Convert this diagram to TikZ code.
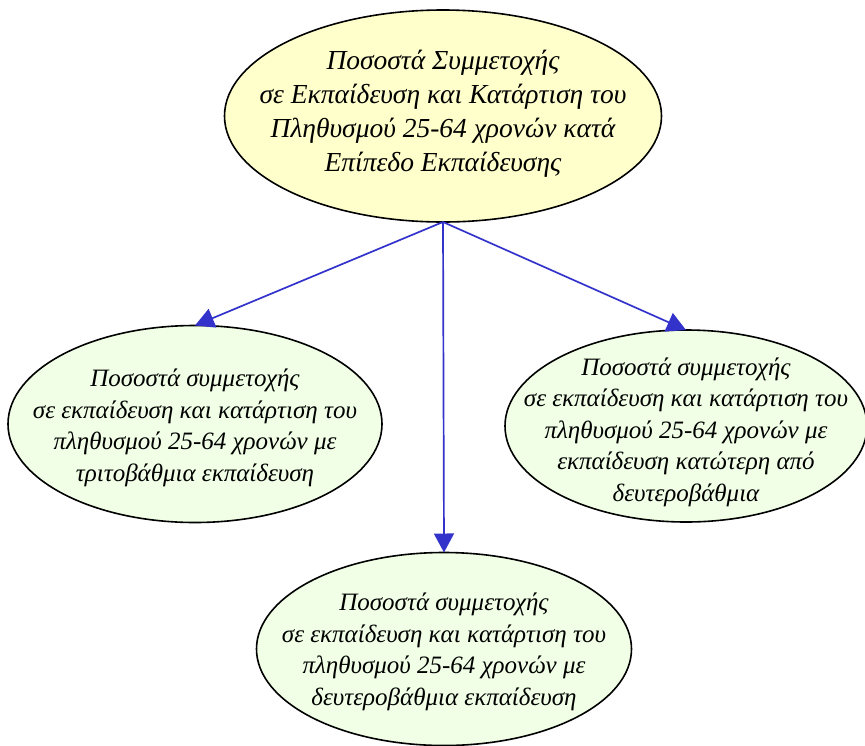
\documentclass[tikz,border=0pt]{standalone}
\usepackage{fontspec}
\setmainfont{Liberation Serif}
\usetikzlibrary{shapes.geometric,arrows.meta}
\definecolor{topfill}{RGB}{255,255,204}
\definecolor{childfill}{RGB}{240,255,230}
\definecolor{edgeblue}{RGB}{51,51,204}
\tikzset{
  x=1pt,y=-1pt,
  ell/.style={ellipse,draw=black,line width=1.6pt,inner sep=0pt,outer sep=0pt},
  topell/.style={ell,fill=topfill},
  childell/.style={ell,fill=childfill},
  toptxt/.style={align=center,inner sep=0pt,font=\itshape\fontsize{27.5}{34}\selectfont},
  childtxt/.style={align=center,inner sep=0pt,font=\itshape\fontsize{25}{31.5}\selectfont},
  conn/.style={draw=edgeblue,line width=1.7pt,-{Triangle[length=19pt,width=20pt]}}
}
\begin{document}
\begin{tikzpicture}
\useasboundingbox (0,0) rectangle (865,745);
\node[topell,minimum width=437pt,minimum height=212pt] (top) at (443,116) {};
\node[toptxt] (toptext) at (443,114)
  {Ποσοστά Συμμετοχής\\σε Εκπαίδευση και Κατάρτιση του\\Πληθυσμού 25-64 χρονών κατά\\Επίπεδο Εκπαίδευσης};
\node[childell,minimum width=374pt,minimum height=197pt] (left) at (195,424) {};
\node[childtxt] (lefttext) at (195,428)
  {Ποσοστά συμμετοχής\\σε εκπαίδευση και κατάρτιση του\\πληθυσμού 25-64 χρονών με\\τριτοβάθμια εκπαίδευση};
\node[childell,minimum width=362pt,minimum height=192pt] (right) at (686,426) {};
\node[childtxt] (righttext) at (686,432)
  {Ποσοστά συμμετοχής\\σε εκπαίδευση και κατάρτιση του\\πληθυσμού 25-64 χρονών με\\εκπαίδευση κατώτερη από\\δευτεροβάθμια};
\node[childell,minimum width=375pt,minimum height=193pt] (bottom) at (444,649) {};
\node[childtxt] (bottomtext) at (444,652)
  {Ποσοστά συμμετοχής\\σε εκπαίδευση και κατάρτιση του\\πληθυσμού 25-64 χρονών με\\δευτεροβάθμια εκπαίδευση};
\draw[conn] (top.south) -- (left.north);
\draw[conn] (top.south) -- (bottom.north);
\draw[conn] (top.south) -- (right.north);
\end{tikzpicture}
\end{document}
